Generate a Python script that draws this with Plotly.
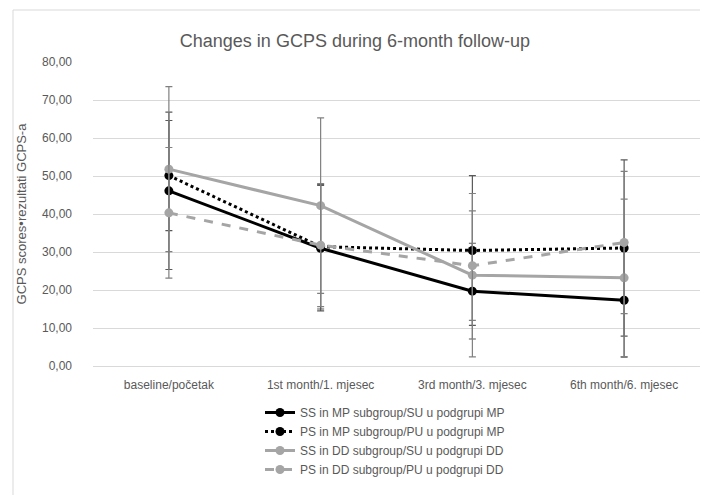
import plotly.graph_objects as go

categories = ["baseline/početak", "1st month/1. mjesec", "3rd month/3. mjesec", "6th month/6. mjesec"]

ss_mp = [46.1, 31.0, 19.7, 17.3]
ss_mp_sd = [20.7, 16.5, 12.6, 15.0]
ps_mp = [50.1, 31.4, 30.4, 31.05]
ps_mp_sd = [14.5, 16.4, 19.7, 23.2]
ss_dd = [51.8, 42.2, 23.9, 23.2]
ss_dd_sd = [21.7, 23.1, 21.5, 20.7]
ps_dd = [40.3, 31.8, 26.4, 32.5]
ps_dd_sd = [17.2, 16.2, 14.4, 18.7]

names = [
    "SS in MP subgroup/SU u podgrupi MP",
    "PS in MP subgroup/PU u podgrupi MP",
    "SS in DD subgroup/SU u podgrupi DD",
    "PS in DD subgroup/PU u podgrupi DD",
]

FONT = "Liberation Sans, Arial, sans-serif"
series = [
    (ss_mp, ss_mp_sd, names[0], "#000000", "solid", "#595959"),
    (ps_mp, ps_mp_sd, names[1], "#000000", "dot", "#595959"),
    (ss_dd, ss_dd_sd, names[2], "#A5A5A5", "solid", "#808080"),
    (ps_dd, ps_dd_sd, names[3], "#A5A5A5", "dash", "#808080"),
]

fig = go.Figure()
for vals, sd, name, color, dash, ecolor in series:
    fig.add_trace(go.Scatter(
        x=categories, y=vals, name=name, mode="lines+markers",
        line=dict(color=color, width=3, dash=dash),
        marker=dict(color=color, size=9, symbol="circle"),
        error_y=dict(type="data", array=sd, visible=True, color=ecolor, thickness=1.2, width=3.5),
    ))

W, H = 708, 495
L, R, T, B = 85, 16, 54, 137
pw, ph = W - L - R, H - T - B

def px_x(p):
    return (p - L) / pw

def px_y(p):
    return (H - B - p) / ph

fig.update_layout(
    width=W, height=H,
    margin=dict(l=L, r=R, t=T, b=B, autoexpand=False),
    paper_bgcolor="white", plot_bgcolor="white",
    font=dict(family=FONT, size=12, color="#595959"),
    separators=", ",
    title=dict(text="Changes in GCPS during 6-month follow-up", x=0.49, xref="container",
               y=1 - 33 / H, yanchor="middle", font=dict(size=18, color="#595959", family=FONT)),
    xaxis=dict(showgrid=False, showline=True, linecolor="#d9d9d9", linewidth=1,
               ticks="", ticklabelstandoff=8, range=[-0.5, 3.5],
               tickfont=dict(size=12, color="#595959")),
    yaxis=dict(range=[0, 80], dtick=10, tickformat=".2f", showgrid=True, gridcolor="#d9d9d9",
               gridwidth=1, zeroline=False, showline=False, ticks="", ticklabelstandoff=20,
               tickfont=dict(size=12, color="#595959"),
               title=dict(text="GCPS scores•rezultati GCPS-a", standoff=12,
                          font=dict(size=13, color="#595959"))),
    showlegend=True,
    legend=dict(x=px_x(252), y=px_y(390), xanchor="left", yanchor="top",
                orientation="v", font=dict(size=12, color="#595959", family=FONT),
                bgcolor="rgba(0,0,0,0)", itemwidth=30, tracegroupgap=0),
    shapes=[dict(type="rect", xref="paper", yref="paper",
                 x0=px_x(5), x1=px_x(700), y0=px_y(488), y1=px_y(2),
                 line=dict(color="#d9d9d9", width=1), layer="below")],
)

fig.write_html("out.html")
